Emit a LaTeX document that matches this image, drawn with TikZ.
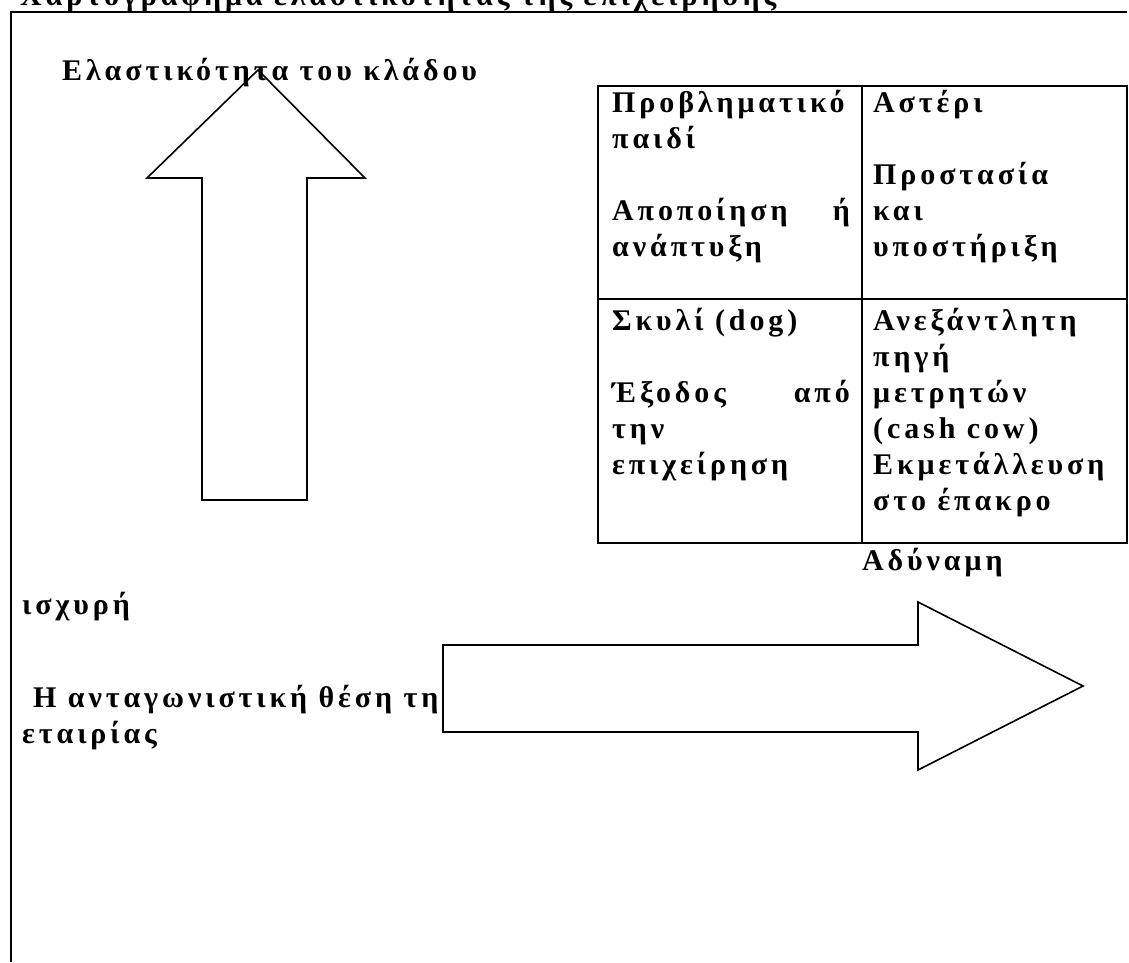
\documentclass[tikz,border=0pt]{standalone}
\usepackage{fontspec}
\setmainfont{Liberation Serif}[LetterSpace=13,UprightFont=* Bold]
\begin{document}
\begin{tikzpicture}[x=1pt,y=-1pt,
  lbl/.style={anchor=base west,inner sep=0pt,font=\fontsize{30}{35}\selectfont},
  lblr/.style={anchor=base east,inner sep=0pt,font=\fontsize{30}{35}\selectfont},
  shapeline/.style={draw=black,line width=1.6pt,line join=miter}]
\useasboundingbox (0,0) rectangle (1129,962);
\clip (0,0) rectangle (1129,962);
% top clipped caption
\node[lbl] (cap) at (20,5) {Χαρτογράφημα ελαστικότητας της επιχείρησης};
% frame
\draw[shapeline] (11,962) -- (11,12) -- (1127,12);
% table
\draw[shapeline] (598,86) rectangle (1127,543);
\draw[shapeline] (862,86) -- (862,543);
\draw[shapeline] (598,299) -- (1127,299);
% table texts
\node[lbl] (a1) at (612,112) {Προβληματικό};
\node[lbl] (a2) at (612,148) {παιδί};
\node[lbl] (a3) at (612,220) {Αποποίηση};
\node[lblr] (a3b) at (850,220) {ή};
\node[lbl] (a4) at (612,256) {ανάπτυξη};
\node[lbl] (b1) at (873,112) {Αστέρι};
\node[lbl] (b2) at (873,184) {Προστασία};
\node[lbl] (b3) at (873,220) {και};
\node[lbl] (b4) at (873,256) {υποστήριξη};
\node[lbl] (c1) at (612,330) {Σκυλί (dog)};
\node[lbl] (c2) at (612,402) {Έξοδος};
\node[lblr] (c2b) at (850,402) {από};
\node[lbl] (c3) at (612,438) {την};
\node[lbl] (c4) at (612,474) {επιχείρηση};
\node[lbl] (d1) at (873,330) {Ανεξάντλητη};
\node[lbl] (d2) at (873,366) {πηγή};
\node[lbl] (d3) at (873,402) {μετρητών};
\node[lbl] (d4) at (873,438) {(cash cow)};
\node[lbl] (d5) at (873,474) {Εκμετάλλευση};
\node[lbl] (d6) at (873,510) {στο έπακρο};
% other labels
\node[lbl] (elast) at (62,80) {Ελαστικότητα του κλάδου};
\node[lbl] (weak) at (862,570) {Αδύναμη};
\node[lbl] (strong) at (22,614) {ισχυρή};
\node[lbl] (pos) at (33,707) {Η ανταγωνιστική θέση της};
\node[lbl] (pos2) at (22,743) {εταιρίας};
% up arrow
\draw[shapeline] (202,500) -- (202,178) -- (147,178) -- (258,70) -- (365,178) -- (307,178) -- (307,500) -- cycle;
% right arrow
\draw[shapeline,fill=white] (443,645) -- (918,645) -- (918,602) -- (1083,686) -- (918,770) -- (918,732) -- (443,732) -- cycle;
\end{tikzpicture}
\end{document}
